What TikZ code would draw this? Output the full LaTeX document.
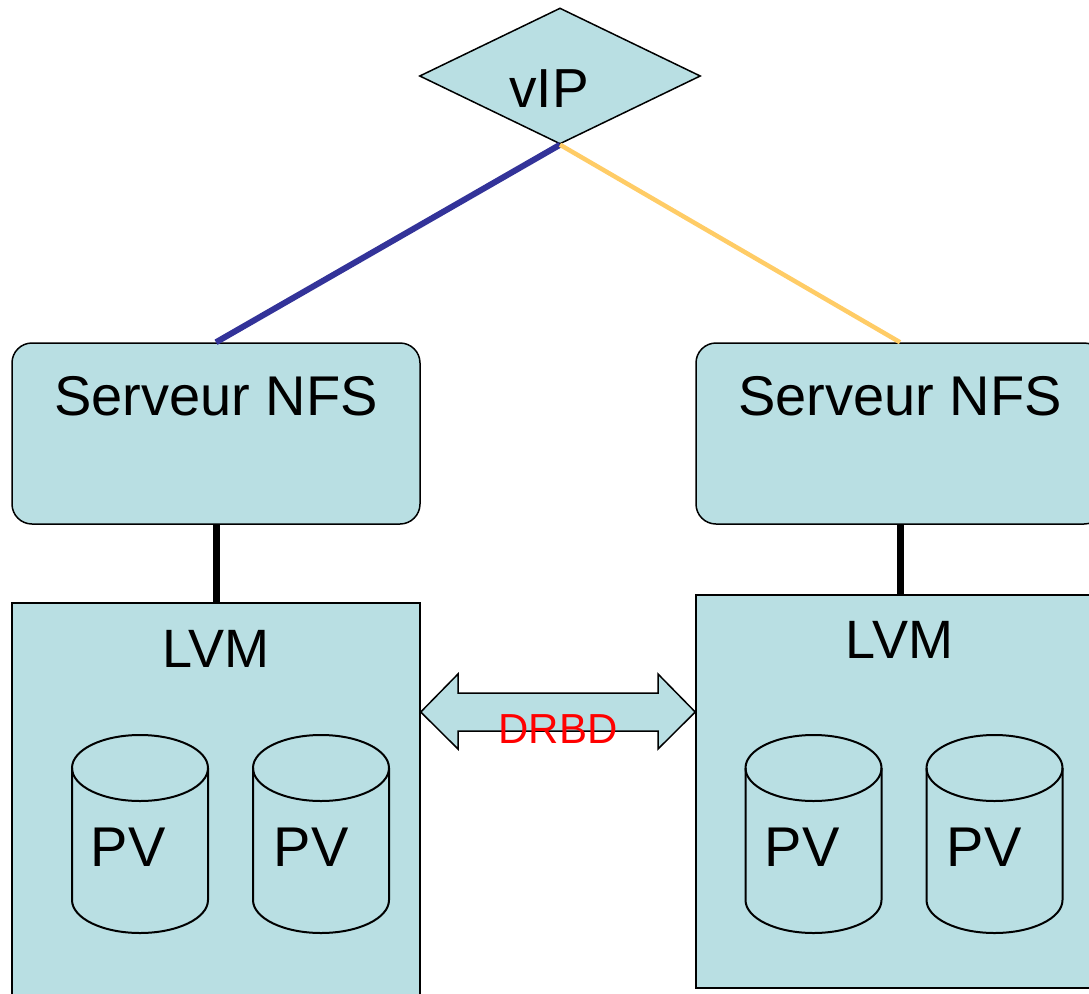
\documentclass[tikz,border=0pt]{standalone}
\usepackage{fontspec}
\setmainfont{Liberation Sans}
\usetikzlibrary{shapes.geometric}
\definecolor{boxfill}{RGB}{185,223,227}
\definecolor{linkblue}{RGB}{51,51,153}
\definecolor{linkorange}{RGB}{255,204,102}
\definecolor{drbdred}{RGB}{255,0,0}
\begin{document}
\begin{tikzpicture}[x=1pt,y=-1pt,
  box/.style={draw=black, line width=1.5pt, fill=boxfill, inner sep=0pt},
  nfsbox/.style={box, rounded corners=20pt, minimum width=408pt, minimum height=181pt},
  lvmbox/.style={box, minimum width=408pt, minimum height=393pt},
  bigtext/.style={anchor=base, inner sep=0pt, font=\fontsize{56}{60}\selectfont},
  lvmtext/.style={anchor=base, inner sep=0pt, font=\fontsize{54}{60}\selectfont},
  cylline/.style={draw=black, line width=2pt},
  pvcyl/.pic={
    \draw[cylline] (0,0) ellipse [x radius=68, y radius=33];
    \draw[cylline] (-68,0) -- (-68,132) arc[start angle=180, end angle=0, x radius=68, y radius=33] -- (68,0);
  }]
\useasboundingbox (0,0) rectangle (1089,993);
\begin{scope}
\clip (0,0) rectangle (1089,993);

% vIP diamond
\node[diamond, draw=black, line width=1.5pt, fill=boxfill, inner sep=0pt,
      minimum width=281pt, minimum height=136pt] (vip) at (560,76) {};
\node[anchor=base, inner sep=0pt, font=\fontsize{55}{60}\selectfont] (viptext) at (549,107) {vIP};

% NFS servers
\node[nfsbox] (nfsL) at (216,433.5) {};
\node[nfsbox] (nfsR) at (900,433.5) {};
\node[bigtext] (nfsLtext) at (216,415) {Serveur NFS};
\node[bigtext] (nfsRtext) at (900,415) {Serveur NFS};

% LVM boxes
\node[lvmbox] (lvmL) at (216,799.5) {};
\node[lvmbox] (lvmR) at (900,791.5) {};
\node[lvmtext] (lvmLtext) at (216,667) {LVM};
\node[lvmtext] (lvmRtext) at (899.5,658) {LVM};

% links
\draw[linkblue, line width=6pt] (vip.south) -- (nfsL.north);
\draw[linkorange, line width=4.5pt] (vip.south) -- (nfsR.north);
\draw[black, line width=7pt] (nfsL.south) -- (lvmL.north);
\draw[black, line width=7pt] (nfsR.south) -- (lvmR.north);

% DRBD double arrow
\draw[black, line width=1.5pt, fill=boxfill, line join=miter]
  (lvmL.east |- 0,712) -- (458,674) -- (458,693) -- (658,693) -- (658,674)
  -- (lvmR.west |- 0,712) -- (658,749) -- (658,731) -- (458,731) -- (458,749) -- cycle;
\node[anchor=base, inner sep=0pt, text=drbdred, font=\fontsize{42}{48}\selectfont] (drbd) at (558,743) {DRBD};

% PV cylinders
\pic at (140,768) {pvcyl};
\pic at (321,768) {pvcyl};
\pic at (813.5,768) {pvcyl};
\pic at (994.5,768) {pvcyl};
\node[bigtext] (pv1) at (128,866) {PV};
\node[bigtext] (pv2) at (311,866) {PV};
\node[bigtext] (pv3) at (802,866) {PV};
\node[bigtext] (pv4) at (984,866) {PV};
\end{scope}
\end{tikzpicture}
\end{document}
